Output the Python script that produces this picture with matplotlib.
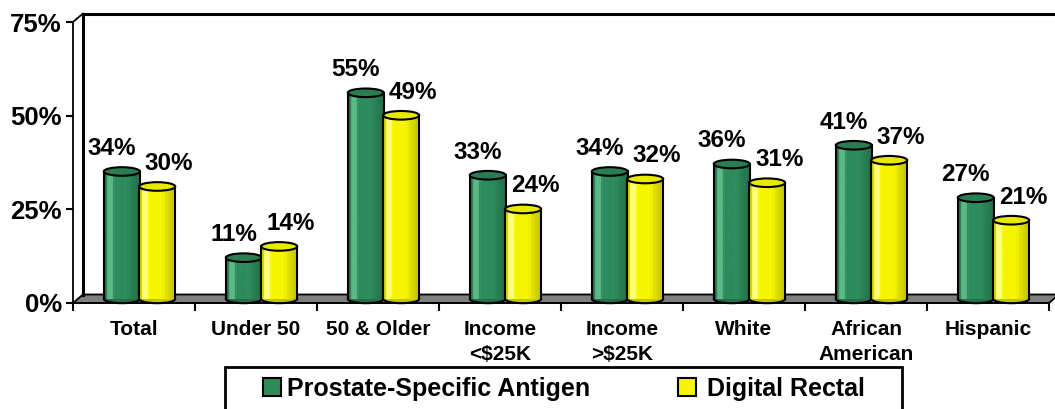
import numpy as np
import matplotlib
matplotlib.use("Agg")
import matplotlib.pyplot as plt
from matplotlib.patches import Rectangle, Ellipse, Polygon
from matplotlib.colors import to_rgb

plt.rcParams['font.family'] = ['Liberation Sans', 'DejaVu Sans']
plt.rcParams['font.weight'] = 'bold'

categories = ["Total", "Under 50", "50 & Older", "Income\n<$25K", "Income\n>$25K",
              "White", "African\nAmerican", "Hispanic"]
psa = [34, 11, 55, 33, 34, 36, 41, 27]
dre = [30, 14, 49, 24, 32, 31, 37, 21]
series_names = ["Prostate-Specific Antigen", "Digital Rectal"]
yticks = [0, 25, 50, 75]
ytick_labels = ["0%", "25%", "50%", "75%"]

# colours: (body, highlight, shade, top)
green = ("#2e8b5b", "#5cb887", "#22704a", "#2a7d52")
yellow = ("#f5f500", "#ffff7a", "#c4c400", "#e8e800")

W, H = 1055, 409
fig = plt.figure(figsize=(W / 100, H / 100), dpi=100)
ax = fig.add_axes([73 / W, (H - 303) / H, 976 / W, 281 / H])
ax.set_xlim(0, 8)
ax.set_ylim(0, 75)

# 3d depth offset in data units
dx, dy = 10 / 122, 8.5 / 3.747
bar_w = 0.295
base = 1.1
ell_h = 2.3


def body_image(col):
    body, hi, sh, _ = [np.array(to_rgb(c)) for c in col]
    xs = np.linspace(0, 1, 60)
    img = np.zeros((1, 60, 3))
    for k, t in enumerate(xs):
        if t < 0.08:
            c = body * 0.85
        elif t < 0.25:
            c = hi
        elif t < 0.6:
            c = body
        else:
            f = (t - 0.6) / 0.4
            c = body * (1 - f) + sh * f
        img[0, k] = c
    # a few faint vertical stripes
    for s in (0.3, 0.62, 0.7):
        k = int(s * 59)
        img[0, k] = np.clip(img[0, k] * 1.12, 0, 1)
    return img


def cylinder(xc, v, col, z):
    x0 = xc - bar_w / 2
    top = base + v
    ax.add_patch(Ellipse((xc, base), bar_w, ell_h, facecolor=col[2], edgecolor='black',
                         lw=1.5, zorder=z, clip_on=False))
    rect = Rectangle((x0, base), bar_w, v, facecolor='none', edgecolor='none', zorder=z + 0.1)
    ax.add_patch(rect)
    im = ax.imshow(body_image(col), extent=(x0, x0 + bar_w, base, top), aspect='auto',
                   zorder=z + 0.1, interpolation='bilinear')
    im.set_clip_path(rect)
    ax.plot([x0, x0], [base, top], color='black', lw=1.5, zorder=z + 0.2, clip_on=False)
    ax.plot([x0 + bar_w, x0 + bar_w], [base, top], color='black', lw=1.5, zorder=z + 0.2,
            clip_on=False)
    ax.add_patch(Ellipse((xc, top), bar_w, ell_h, facecolor=col[3], edgecolor='black',
                         lw=1.5, zorder=z + 0.3, clip_on=False))


# floor and back wall
ax.add_patch(Polygon([(0, 0), (8, 0), (8 + dx, dy), (dx, dy)], closed=True,
                     facecolor='#808080', edgecolor='black', lw=1.3, zorder=1, clip_on=False))
ax.plot([dx, dx, 8 + dx], [dy, 75 + dy, 75 + dy], color='black', lw=2.2, zorder=1,
        clip_on=False)
ax.plot([0, dx], [75, 75 + dy], color='black', lw=1.3, zorder=1, clip_on=False)

for i in range(len(categories)):
    cylinder(i + 0.40, psa[i], green, 3 + i)
    cylinder(i + 0.69, dre[i], yellow, 3.5 + i)
    ax.annotate(f"{psa[i]}%", (i + 0.40, base + psa[i]), xytext=(-10, 23),
                textcoords='offset pixels', ha='center', va='center', fontsize=17.5,
                fontweight='bold', zorder=20)
    ax.annotate(f"{dre[i]}%", (i + 0.69, base + dre[i]), xytext=(12, 23),
                textcoords='offset pixels', ha='center', va='center', fontsize=17.5,
                fontweight='bold', zorder=20)

# axes
for s in ['top', 'right']:
    ax.spines[s].set_visible(False)
ax.spines['left'].set_linewidth(1.3)
ax.spines['bottom'].set_linewidth(1.3)
ax.spines['left'].set_zorder(2)
ax.spines['bottom'].set_zorder(2)
ax.set_yticks(yticks)
ax.set_yticklabels(ytick_labels, fontsize=18.5, fontweight='bold')
ax.tick_params(axis='y', length=5, width=1.5, pad=3)
ax.set_xticks(np.arange(0, 9))
ax.set_xticklabels([])
ax.tick_params(axis='x', which='major', length=6, width=1.5)
ax.set_xticks(np.arange(len(categories)) + 0.5, minor=True)
ax.set_xticklabels(categories, minor=True, fontsize=15, fontweight='bold',
                   linespacing=1.45, va='top')
ax.tick_params(axis='x', which='minor', length=0, pad=12)

# legend box (bottom cut off as in original)
fig.patches.append(Rectangle((225 / W, -0.1), 677 / W, 0.1 + (H - 367) / H,
                             transform=fig.transFigure, facecolor='white',
                             edgecolor='black', lw=2, zorder=30))
leg_items = [(263, 287, green[0], series_names[0]), (678, 707, yellow[0], series_names[1])]
for sx, tx, c, name in leg_items:
    fig.patches.append(Rectangle((sx / W, (H - 396) / H), 18 / W, 18 / H,
                                 transform=fig.transFigure, facecolor=c,
                                 edgecolor='black', lw=1.5, zorder=31))
    fig.text(tx / W, (H - 396) / H, name, fontsize=18, fontweight='bold',
             ha='left', va='baseline', zorder=32)

fig.savefig("out.png", dpi=100)
